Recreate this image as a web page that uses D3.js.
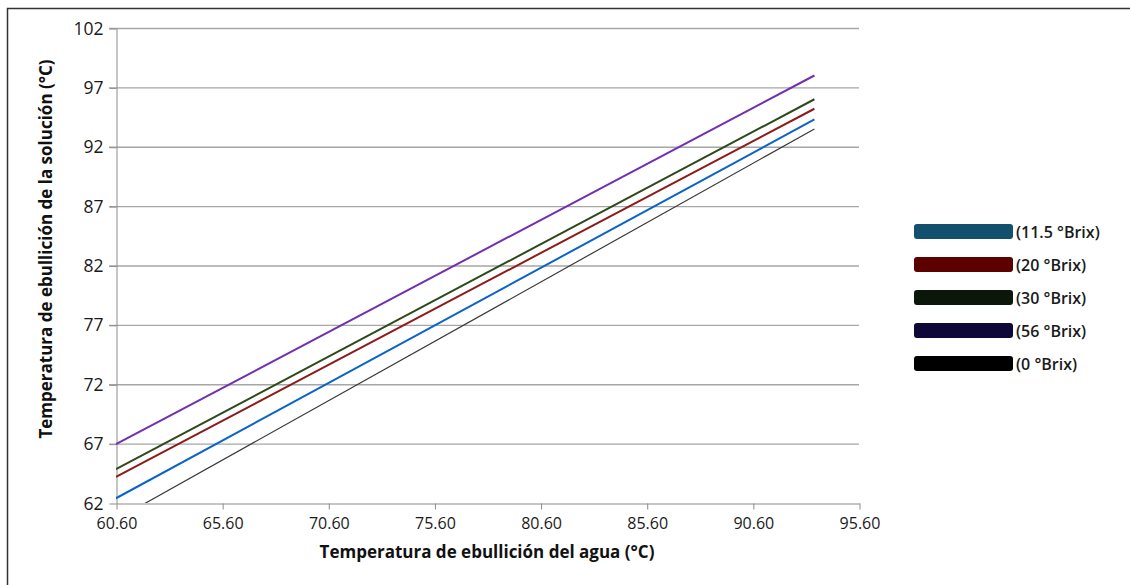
<!DOCTYPE html>
<html>
<head>
<meta charset="utf-8">
<script src="https://cdn.jsdelivr.net/npm/d3@7"></script>
<style>
  body { margin: 0; background: #fff; }
  svg { display: block; }
</style>
</head>
<body>
<svg id="chart" width="1130" height="585"></svg>
<script>
// Datos (extremos de cada recta)
const aguaX = [60.6, 93.5];
const brix115 = [62.4, 94.3];
const brix20 = [64.2, 95.2];
const brix30 = [64.85, 96.0];
const brix56 = [66.95, 98.0];
const brix0 = [60.6, 93.5];

const xTicks = [60.6, 65.6, 70.6, 75.6, 80.6, 85.6, 90.6, 95.6];
const yTicks = [62, 67, 72, 77, 82, 87, 92, 97, 102];

const series = [
  { name: "(11.5 °Brix)", values: brix115, line: "#0a64c8", swatch: "#13506e", width: 2 },
  { name: "(20 °Brix)", values: brix20, line: "#8c1c1c", swatch: "#5c0000", width: 2 },
  { name: "(30 °Brix)", values: brix30, line: "#2c4a1c", swatch: "#0a170a", width: 2 },
  { name: "(56 °Brix)", values: brix56, line: "#7030b0", swatch: "#0e0838", width: 2 },
  { name: "(0 °Brix)", values: brix0, line: "#3a3a3a", swatch: "#000000", width: 1.2 }
];

let svg = d3.select("#chart");

// Marco exterior
svg.append("path")
  .attr("d", "M7.5,585 V8.5 H1130")
  .attr("fill", "none")
  .attr("stroke", "#333")
  .attr("stroke-width", 1.5);

let x = d3.scaleLinear().domain([60.6, 95.6]).range([116, 859]);
let y = d3.scaleLinear().domain([62, 102]).range([503, 28]);

// Rejilla horizontal
svg.append("g")
  .selectAll("line")
  .data(yTicks.slice(1))
  .enter()
  .append("line")
  .attr("x1", 109).attr("x2", 859)
  .attr("y1", d => y(d) + 0.5).attr("y2", d => y(d) + 0.5)
  .attr("stroke", "#a6a6a6")
  .attr("stroke-width", 1.3);

// Eje Y
let yAxis = svg.append("g")
  .attr("transform", "translate(116.5,0.5)")
  .call(d3.axisLeft(y).tickValues(yTicks).tickSize(7).tickSizeOuter(0).tickPadding(6));
yAxis.select(".domain").attr("stroke", "#8c8c8c");
yAxis.selectAll(".tick line").attr("stroke", "#8c8c8c");
yAxis.selectAll("text")
  .style("font-family", "'Open Sans', sans-serif")
  .style("font-size", "17.5px")
  .attr("fill", "#1a1a1a");

// Eje X
let xAxis = svg.append("g")
  .attr("transform", "translate(0.5,503.5)")
  .call(d3.axisBottom(x).tickValues(xTicks).tickFormat(d3.format(".2f")).tickSize(6).tickSizeOuter(0).tickPadding(8));
xAxis.select(".domain").attr("stroke", "#8c8c8c");
xAxis.selectAll(".tick line").attr("stroke", "#8c8c8c");
xAxis.selectAll("text")
  .style("font-family", "'Open Sans', sans-serif")
  .style("font-size", "16px")
  .attr("fill", "#1a1a1a");

// Zona de recorte del área de trazado
svg.append("clipPath").attr("id", "plot-clip")
  .append("rect")
  .attr("x", 116).attr("y", 28)
  .attr("width", 743).attr("height", 475);

let line = d3.line()
  .x((d, i) => x(aguaX[i]))
  .y(d => y(d));

svg.append("g")
  .attr("clip-path", "url(#plot-clip)")
  .selectAll("path")
  .data(series)
  .enter()
  .append("path")
  .attr("d", d => line(d.values))
  .attr("fill", "none")
  .attr("stroke", d => d.line)
  .attr("stroke-width", d => d.width);

// Títulos de los ejes
svg.append("text")
  .attr("x", 487).attr("y", 558)
  .attr("text-anchor", "middle")
  .attr("font-family", "'Open Sans', sans-serif")
  .attr("font-weight", "bold")
  .attr("font-size", 17)
  .attr("fill", "#111")
  .text("Temperatura de ebullición del agua (°C)");

svg.append("text")
  .attr("transform", "translate(52,249) rotate(-90)")
  .attr("text-anchor", "middle")
  .attr("font-family", "'Open Sans', sans-serif")
  .attr("font-weight", "bold")
  .attr("font-size", 17)
  .attr("fill", "#111")
  .text("Temperatura de ebullición de la solución (°C)");

// Leyenda
let legend = svg.append("g")
  .selectAll("g")
  .data(series)
  .enter()
  .append("g")
  .attr("transform", (d, i) => "translate(914," + (224 + i * 33) + ")");

legend.append("rect")
  .attr("width", 99).attr("height", 15)
  .attr("rx", 3)
  .attr("fill", d => d.swatch);

legend.append("text")
  .attr("x", 102).attr("y", 13.5)
  .attr("font-family", "'Open Sans', sans-serif")
  .attr("font-weight", "600")
  .attr("font-size", 16)
  .attr("fill", "#1a1a1a")
  .text(d => d.name);
</script>
</body>
</html>
